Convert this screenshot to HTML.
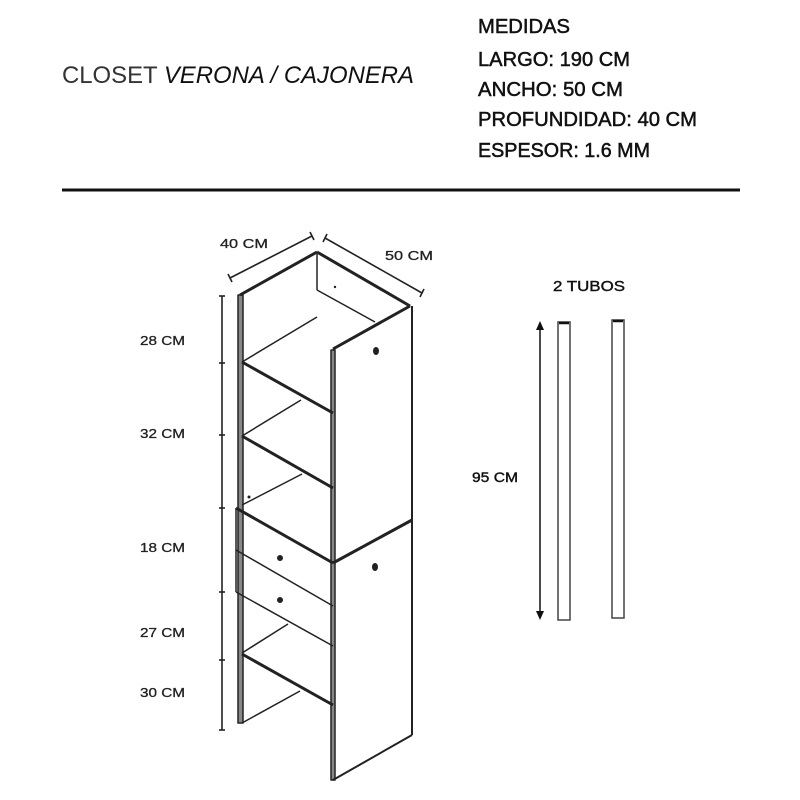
<!DOCTYPE html>
<html><head><meta charset="utf-8"><style>html,body{margin:0;padding:0;background:#fff}svg{display:block}</style></head>
<body>
<svg width="800" height="800" viewBox="0 0 800 800" xmlns="http://www.w3.org/2000/svg" font-family="Liberation Sans, sans-serif">
<rect width="800" height="800" fill="#fff"/>
<!-- header -->
<text x="62" y="83" font-size="24" fill="#333" textLength="352" lengthAdjust="spacingAndGlyphs">CLOSET <tspan font-style="italic" fill="#111">VERONA / CAJONERA</tspan></text>
<g font-size="20" fill="#111" stroke="#111" stroke-width="0.5">
<text x="478" y="33" textLength="92" lengthAdjust="spacingAndGlyphs">MEDIDAS</text>
<text x="478" y="66" textLength="152" lengthAdjust="spacingAndGlyphs">LARGO: 190 CM</text>
<text x="478" y="96" textLength="145" lengthAdjust="spacingAndGlyphs">ANCHO: 50 CM</text>
<text x="478" y="126" textLength="219" lengthAdjust="spacingAndGlyphs">PROFUNDIDAD: 40 CM</text>
<text x="478" y="157" textLength="172" lengthAdjust="spacingAndGlyphs">ESPESOR: 1.6 MM</text>
</g>
<line x1="62" y1="190" x2="740" y2="190" stroke="#111" stroke-width="3"/>

<!-- dimensions top -->
<g stroke="#222" stroke-width="1.6" fill="none">
<line x1="230" y1="278" x2="312" y2="236"/>
<line x1="228" y1="274" x2="232" y2="282"/><line x1="310" y1="232" x2="314" y2="240"/>
<line x1="325" y1="238" x2="422" y2="293"/>
<line x1="327" y1="234" x2="323" y2="242"/><line x1="424" y1="289" x2="420" y2="297"/>
</g>
<g font-size="13" fill="#222" stroke="#222" stroke-width="0.3">
<text x="220" y="248" textLength="48" lengthAdjust="spacingAndGlyphs">40 CM</text>
<text x="385" y="260" textLength="48" lengthAdjust="spacingAndGlyphs">50 CM</text>
</g>

<!-- left dimension line -->
<g stroke="#222" stroke-width="1.6">
<line x1="222" y1="296" x2="222" y2="730"/>
<line x1="219" y1="296" x2="225" y2="296"/>
<line x1="219" y1="363" x2="225" y2="363"/>
<line x1="219" y1="435" x2="225" y2="435"/>
<line x1="219" y1="508" x2="225" y2="508"/>
<line x1="219" y1="592" x2="225" y2="592"/>
<line x1="219" y1="660" x2="225" y2="660"/>
<line x1="219" y1="730" x2="225" y2="730"/>
</g>
<g font-size="13" fill="#222" stroke="#222" stroke-width="0.3">
<text x="140" y="345" textLength="45" lengthAdjust="spacingAndGlyphs">28 CM</text>
<text x="140" y="438" textLength="45" lengthAdjust="spacingAndGlyphs">32 CM</text>
<text x="140" y="552" textLength="45" lengthAdjust="spacingAndGlyphs">18 CM</text>
<text x="140" y="637" textLength="45" lengthAdjust="spacingAndGlyphs">27 CM</text>
<text x="140" y="697" textLength="45" lengthAdjust="spacingAndGlyphs">30 CM</text>
</g>

<!-- cabinet -->
<g stroke="#222" stroke-width="1.5" fill="none" stroke-linejoin="round">
<rect x="238" y="295" width="5" height="428" fill="#888"/>
<line x1="240" y1="295" x2="317" y2="252" stroke-width="3"/>
<line x1="317" y1="252" x2="410" y2="306" stroke-width="3"/>
<line x1="317" y1="254" x2="317" y2="290"/>
<line x1="317" y1="290" x2="375" y2="322"/>
<rect x="331" y="350" width="4" height="430" fill="#888"/>
<line x1="333" y1="349" x2="410" y2="306" stroke-width="3"/>
<line x1="412" y1="306" x2="412" y2="735" stroke-width="2"/>
<line x1="333" y1="563" x2="412" y2="520" stroke-width="3"/>
<line x1="333" y1="780" x2="412" y2="735" stroke-width="2"/>
<line x1="242" y1="362" x2="333" y2="413" stroke-width="3"/>
<line x1="242" y1="362" x2="317" y2="317"/>
<line x1="242" y1="436" x2="333" y2="488" stroke-width="3"/>
<line x1="242" y1="436" x2="301" y2="400"/>
<line x1="242" y1="505" x2="302" y2="474"/>
<line x1="236" y1="508" x2="333" y2="563" stroke-width="3"/>
<line x1="236" y1="550" x2="333" y2="606"/>
<line x1="236" y1="592" x2="333" y2="646"/>
<line x1="236" y1="508" x2="236" y2="592"/>
<line x1="242" y1="653" x2="288" y2="624"/>
<line x1="242" y1="654" x2="333" y2="705" stroke-width="3"/>
<line x1="242" y1="723" x2="300" y2="691"/>
</g>
<g fill="#222">
<circle cx="280" cy="558" r="3"/>
<circle cx="280" cy="600" r="3"/>
<ellipse cx="376" cy="351" rx="3" ry="4"/>
<ellipse cx="375" cy="567" rx="3" ry="4"/>
<circle cx="335" cy="287" r="1.2"/>
<circle cx="249" cy="497" r="1.5"/>
</g>

<!-- tubes -->
<g fill="#111" stroke="#111" stroke-width="0.4">
<text x="553" y="291" font-size="15" textLength="72" lengthAdjust="spacingAndGlyphs">2 TUBOS</text>
<text x="472" y="482" font-size="14" textLength="46" lengthAdjust="spacingAndGlyphs">95 CM</text>
</g>
<line x1="540" y1="328" x2="540" y2="614" stroke="#111" stroke-width="1.5"/>
<polygon points="540,321 536,330 544,330" fill="#111"/>
<polygon points="540,620 536,611 544,611" fill="#111"/>
<rect x="558" y="322" width="12" height="298" fill="none" stroke="#444" stroke-width="1.5"/>
<rect x="612" y="320" width="12" height="298" fill="none" stroke="#444" stroke-width="1.5"/>
<line x1="559" y1="323" x2="569" y2="323" stroke="#111" stroke-width="2.5"/>
<line x1="613" y1="321" x2="623" y2="321" stroke="#111" stroke-width="2.5"/>
</svg>
</body></html>
